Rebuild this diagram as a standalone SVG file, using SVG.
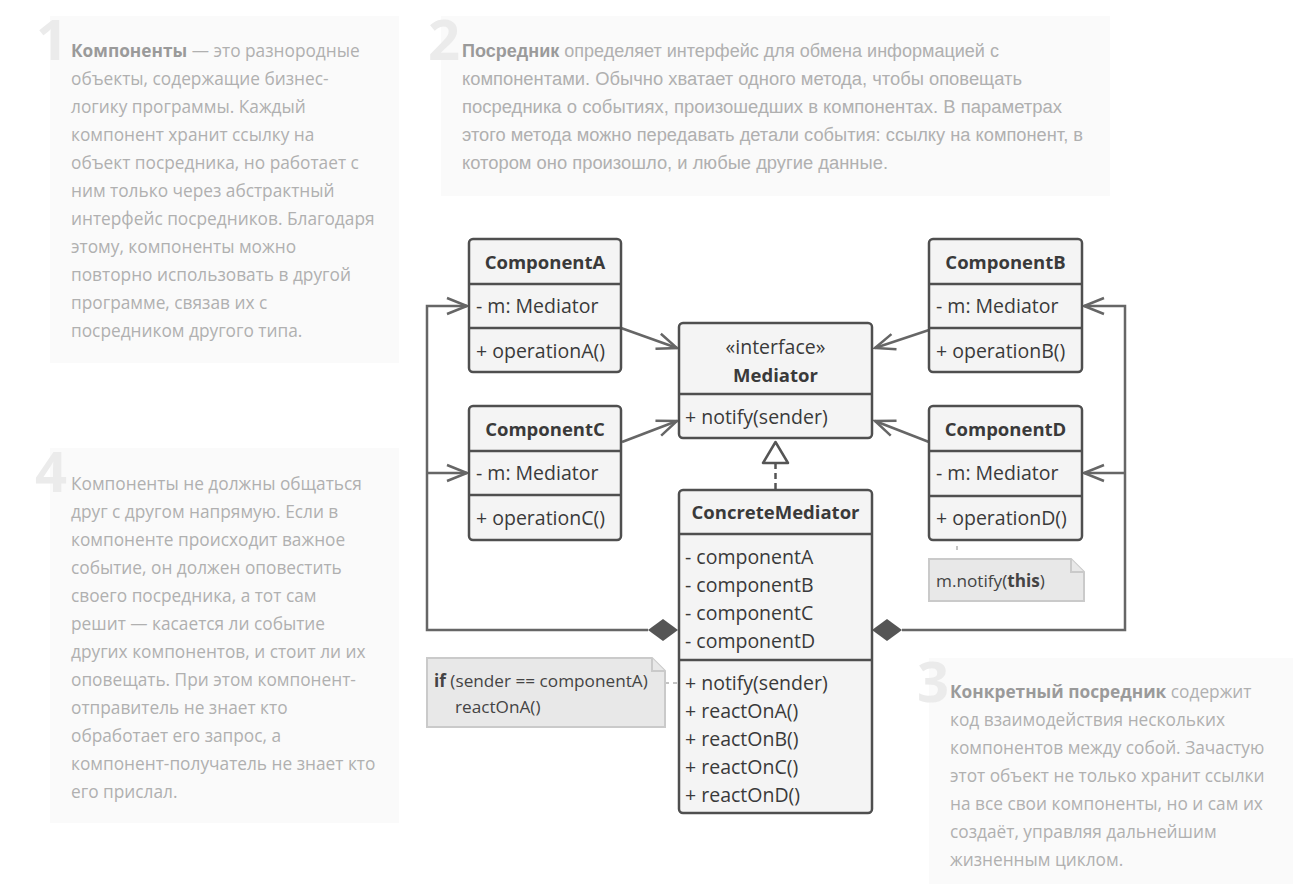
<svg xmlns="http://www.w3.org/2000/svg" width="1304" height="884" viewBox="0 0 1304 884">
  <defs>
    <style>
      .panel { fill: #fafafa; }
      .num { font-family: "Open Sans", "Noto Sans", sans-serif; font-weight: 700; font-size: 56px; fill: #ebebeb; }
      .desc { font-family: "Open Sans", "Noto Sans", sans-serif; font-size: 17.3px; fill: #b0b0b0; }
      .desc .b { font-weight: 700; fill: #9a9a9a; }
      .narrow { font-family: "Liberation Sans", Arial, sans-serif; font-size: 18px; fill: #b0b0b0; }
      .box { fill: #f4f4f4; stroke: #4f4f4f; stroke-width: 2.5; }
      .div { stroke: #4f4f4f; stroke-width: 2.5; }
      .title { font-family: "Open Sans", "Noto Sans", sans-serif; font-weight: 700; font-size: 18.5px; fill: #3a3a3a; text-anchor: middle; }
      .member { font-family: "Open Sans", "Noto Sans", sans-serif; font-size: 19.5px; fill: #3a3a3a; }
      .stereo { font-family: "Open Sans", "Noto Sans", sans-serif; font-size: 19.5px; fill: #3a3a3a; text-anchor: middle; }
      .link { fill: none; stroke: #666; stroke-width: 2.5; }
      .note { fill: #e8e8e8; stroke: #cacaca; stroke-width: 2; }
      .notetext { font-family: "Open Sans", "Noto Sans", sans-serif; font-size: 17.2px; fill: #444; }
      .hint { fill: none; stroke: #c4c4c4; stroke-width: 2; stroke-dasharray: 4 4; }
    </style>
    <marker id="open" markerUnits="userSpaceOnUse" markerWidth="26" markerHeight="20" refX="21" refY="9" orient="auto" overflow="visible">
      <path d="M1,1 L21,9 L1,17" fill="none" stroke="#666" stroke-width="2.5"/>
    </marker>
  </defs>

  <rect width="1304" height="884" fill="#ffffff"/>

  <!-- description panels -->
  <g id="panel1">
    <rect class="panel" x="50" y="16" width="349" height="347"/>
    <text class="num" x="36" y="60">1</text>
    <text class="desc" x="71" y="57"><tspan class="b">Компоненты</tspan> — это разнородные</text>
    <text class="desc" x="71" y="85">объекты, содержащие бизнес-</text>
    <text class="desc" x="71" y="113">логику программы. Каждый</text>
    <text class="desc" x="71" y="141">компонент хранит ссылку на</text>
    <text class="desc" x="71" y="169">объект посредника, но работает с</text>
    <text class="desc" x="71" y="197">ним только через абстрактный</text>
    <text class="desc" x="71" y="225">интерфейс посредников. Благодаря</text>
    <text class="desc" x="71" y="253">этому, компоненты можно</text>
    <text class="desc" x="71" y="281">повторно использовать в другой</text>
    <text class="desc" x="71" y="309">программе, связав их с</text>
    <text class="desc" x="71" y="337">посредником другого типа.</text>
  </g>

  <g id="panel2">
    <rect class="panel" x="441" y="16" width="669" height="180"/>
    <text class="num" x="428" y="60">2</text>
    <text class="narrow" x="462" y="57" textLength="537" lengthAdjust="spacingAndGlyphs"><tspan font-weight="700" fill="#9a9a9a">Посредник</tspan> определяет интерфейс для обмена информацией с</text>
    <text class="narrow" x="462" y="85" textLength="560" lengthAdjust="spacingAndGlyphs">компонентами. Обычно хватает одного метода, чтобы оповещать</text>
    <text class="narrow" x="462" y="113" textLength="600" lengthAdjust="spacingAndGlyphs">посредника о событиях, произошедших в компонентах. В параметрах</text>
    <text class="narrow" x="462" y="141" textLength="621" lengthAdjust="spacingAndGlyphs">этого метода можно передавать детали события: ссылку на компонент, в</text>
    <text class="narrow" x="462" y="169" textLength="426" lengthAdjust="spacingAndGlyphs">котором оно произошло, и любые другие данные.</text>
  </g>

  <g id="panel3">
    <rect class="panel" x="929" y="658" width="364" height="226"/>
    <text class="num" x="917" y="702">3</text>
    <text class="desc" x="950" y="698"><tspan class="b">Конкретный посредник</tspan> содержит</text>
    <text class="desc" x="950" y="726">код взаимодействия нескольких</text>
    <text class="desc" x="950" y="754">компонентов между собой. Зачастую</text>
    <text class="desc" x="950" y="782">этот объект не только хранит ссылки</text>
    <text class="desc" x="950" y="810">на все свои компоненты, но и сам их</text>
    <text class="desc" x="950" y="838">создаёт, управляя дальнейшим</text>
    <text class="desc" x="950" y="866">жизненным циклом.</text>
  </g>

  <g id="panel4">
    <rect class="panel" x="50" y="448" width="349" height="375"/>
    <text class="num" x="35" y="492">4</text>
    <text class="desc" x="71" y="490">Компоненты не должны общаться</text>
    <text class="desc" x="71" y="518">друг с другом напрямую. Если в</text>
    <text class="desc" x="71" y="546">компоненте происходит важное</text>
    <text class="desc" x="71" y="574">событие, он должен оповестить</text>
    <text class="desc" x="71" y="602">своего посредника, а тот сам</text>
    <text class="desc" x="71" y="630">решит — касается ли событие</text>
    <text class="desc" x="71" y="658">других компонентов, и стоит ли их</text>
    <text class="desc" x="71" y="686">оповещать. При этом компонент-</text>
    <text class="desc" x="71" y="714">отправитель не знает кто</text>
    <text class="desc" x="71" y="742">обработает его запрос, а</text>
    <text class="desc" x="71" y="770">компонент-получатель не знает кто</text>
    <text class="desc" x="71" y="798">его прислал.</text>
  </g>

  <!-- connectors -->
  <g id="connectors">
    <line class="link" x1="621" y1="328" x2="677" y2="348" marker-end="url(#open)"/>
    <line class="link" x1="622" y1="442" x2="677" y2="421" marker-end="url(#open)"/>
    <line class="link" x1="929" y1="330" x2="875" y2="348" marker-end="url(#open)"/>
    <line class="link" x1="929" y1="442" x2="875" y2="421" marker-end="url(#open)"/>

    <path class="link" d="M648,630 H427 V306 H467" marker-end="url(#open)"/>
    <path class="link" d="M427,473 H467" marker-end="url(#open)"/>
    <path class="link" d="M902,630 H1125 V306 H1084" marker-end="url(#open)"/>
    <path class="link" d="M1125,473 H1084" marker-end="url(#open)"/>

    <polygon points="648,630 663,619 678,630 663,641" fill="#555"/>
    <polygon points="872,630 887,619 902,630 887,641" fill="#555"/>

    <line x1="775.5" y1="489" x2="775.5" y2="463" stroke="#555" stroke-width="2.5" stroke-dasharray="6 4"/>
    <polygon points="775.5,442 763,463 788,463" fill="#ffffff" stroke="#555" stroke-width="2.5" stroke-linejoin="round"/>

    <line class="hint" x1="665" y1="683" x2="679" y2="683"/>
    <line class="hint" x1="957" y1="546" x2="957" y2="554"/>
  </g>

  <!-- classes -->
  <g id="componentA">
    <rect class="box" x="469" y="239" width="152" height="133" rx="4"/>
    <line class="div" x1="469" y1="284" x2="621" y2="284"/>
    <line class="div" x1="469" y1="328" x2="621" y2="328"/>
    <text class="title" x="545" y="268.5">ComponentA</text>
    <text class="member" x="476" y="312.5">- m: Mediator</text>
    <text class="member" x="476" y="357.5">+ operationA()</text>
  </g>

  <g id="componentB">
    <rect class="box" x="929" y="239" width="153" height="133" rx="4"/>
    <line class="div" x1="929" y1="284" x2="1082" y2="284"/>
    <line class="div" x1="929" y1="328" x2="1082" y2="328"/>
    <text class="title" x="1005.5" y="268.5">ComponentB</text>
    <text class="member" x="936" y="312.5">- m: Mediator</text>
    <text class="member" x="936" y="357.5">+ operationB()</text>
  </g>

  <g id="componentC">
    <rect class="box" x="469" y="406" width="152" height="134" rx="4"/>
    <line class="div" x1="469" y1="451" x2="621" y2="451"/>
    <line class="div" x1="469" y1="495" x2="621" y2="495"/>
    <text class="title" x="545" y="435.5">ComponentC</text>
    <text class="member" x="476" y="479.5">- m: Mediator</text>
    <text class="member" x="476" y="524.5">+ operationC()</text>
  </g>

  <g id="componentD">
    <rect class="box" x="929" y="406" width="153" height="134" rx="4"/>
    <line class="div" x1="929" y1="451" x2="1082" y2="451"/>
    <line class="div" x1="929" y1="496" x2="1082" y2="496"/>
    <text class="title" x="1005.5" y="435.5">ComponentD</text>
    <text class="member" x="936" y="479.5">- m: Mediator</text>
    <text class="member" x="936" y="524.5">+ operationD()</text>
  </g>

  <g id="mediator">
    <rect class="box" x="679" y="323" width="193" height="115" rx="4"/>
    <line class="div" x1="679" y1="394" x2="872" y2="394"/>
    <text class="stereo" x="775.5" y="353.5">«interface»</text>
    <text class="title" x="775.5" y="381.5">Mediator</text>
    <text class="member" x="685" y="423.5">+ notify(sender)</text>
  </g>

  <g id="concreteMediator">
    <rect class="box" x="679" y="490" width="193" height="323" rx="4"/>
    <line class="div" x1="679" y1="534" x2="872" y2="534"/>
    <line class="div" x1="679" y1="660" x2="872" y2="660"/>
    <text class="title" x="775.5" y="518.5">ConcreteMediator</text>
    <text class="member" x="685" y="563.5">- componentA</text>
    <text class="member" x="685" y="591.5">- componentB</text>
    <text class="member" x="685" y="619.5">- componentC</text>
    <text class="member" x="685" y="647.5">- componentD</text>
    <text class="member" x="685" y="689.5">+ notify(sender)</text>
    <text class="member" x="685" y="717.5">+ reactOnA()</text>
    <text class="member" x="685" y="745.5">+ reactOnB()</text>
    <text class="member" x="685" y="773.5">+ reactOnC()</text>
    <text class="member" x="685" y="801.5">+ reactOnD()</text>
  </g>

  <!-- notes -->
  <g id="noteNotify">
    <path class="note" d="M929,559 H1071 L1084,572 V601 H929 Z"/>
    <path class="note" d="M1071,559 V572 H1084"/>
    <text class="notetext" x="936" y="587">m.notify(<tspan font-weight="700">this</tspan>)</text>
  </g>

  <g id="noteReact">
    <path class="note" d="M427,658 H652 L665,671 V727 H427 Z"/>
    <path class="note" d="M652,658 V671 H665"/>
    <text class="notetext" x="434" y="687"><tspan font-weight="700">if</tspan> (sender == componentA)</text>
    <text class="notetext" x="455" y="713">reactOnA()</text>
  </g>
</svg>
